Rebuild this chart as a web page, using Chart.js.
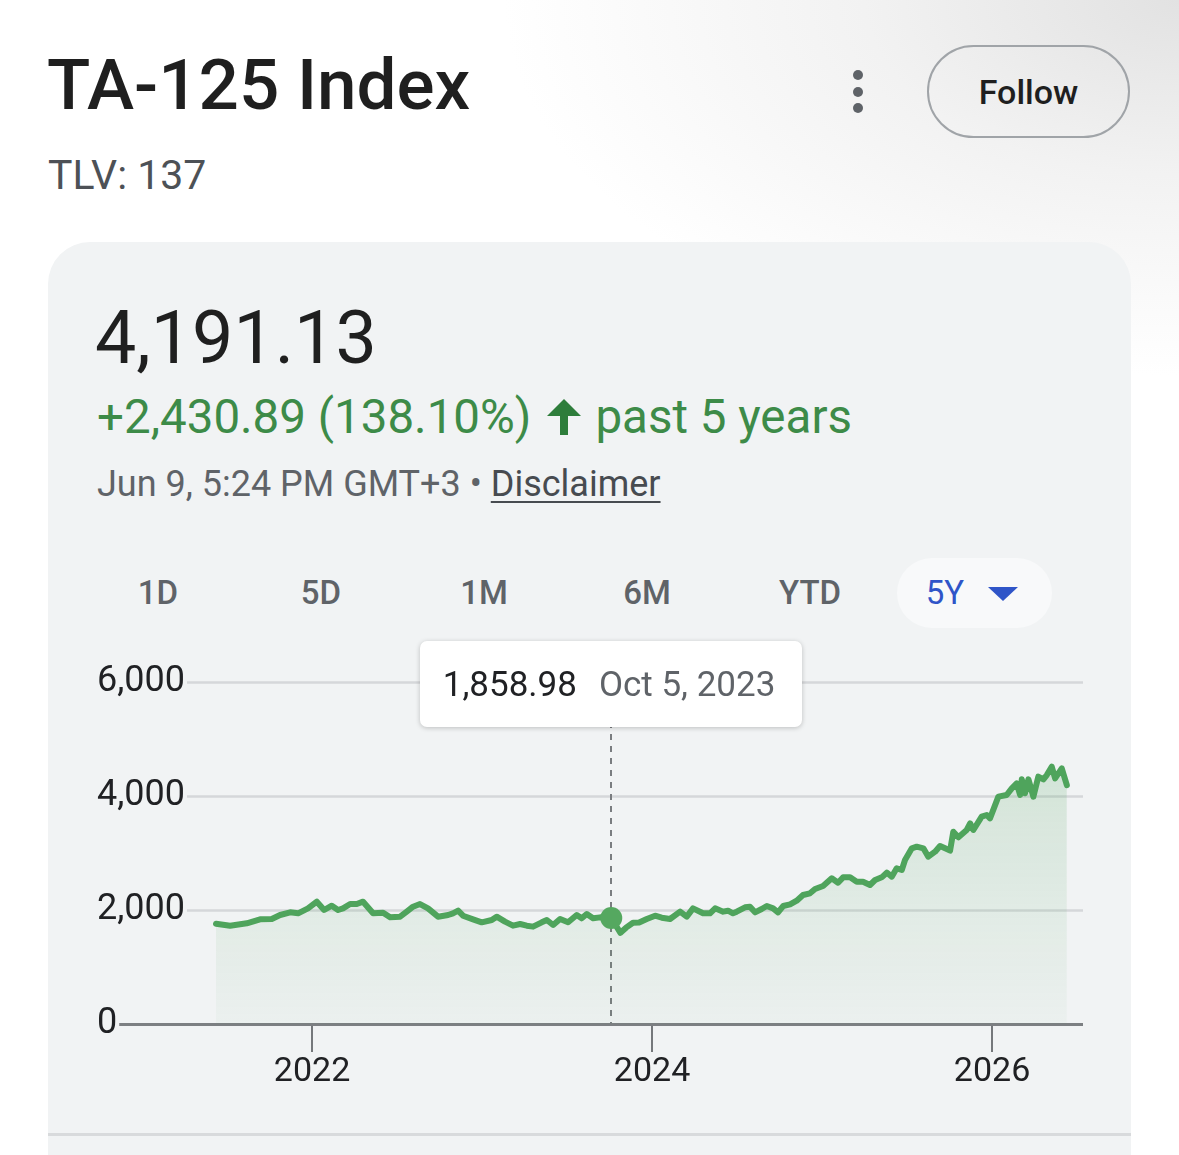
<!DOCTYPE html>
<html lang="en">
<head>
    <meta charset="UTF-8">
    <title>TA-125 Index</title>
    <script src="https://cdn.jsdelivr.net/npm/chart.js"></script>
    <style>
        html, body { margin: 0; padding: 0; }
        body {
            width: 1179px; height: 1155px; overflow: hidden; position: relative;
            font-family: Roboto, "Noto Sans", Arial, sans-serif;
            background: radial-gradient(ellipse 900px 500px at 100% 0%, #e2e2e2 0%, #f2f2f2 35%, #ffffff 75%);
        }
        .abs { position: absolute; white-space: nowrap; }
        #title { left: 47px; top: 49px; font-size: 71px; line-height: 71px; font-weight: 500; color: #1f1f1f; }
        #exchange { left: 48px; top: 155px; font-size: 41px; line-height: 41px; color: #4d5156; }
        .dot { position: absolute; left: 853px; width: 10px; height: 10px; border-radius: 50%; background: #5f6368; }
        #follow {
            left: 927px; top: 45px; width: 199px; height: 89px; border: 2.5px solid #a0a4a8; border-radius: 48px;
            font-size: 34px; font-weight: 500; color: #1f1f1f; display: flex; align-items: center; justify-content: center;
        }
        #card { left: 48px; top: 242px; width: 1083px; height: 960px; background: #f1f3f4; border-radius: 42px; }
        #divider { left: 48px; top: 1133px; width: 1083px; height: 3px; background: #d8dadc; }
        #price { left: 95px; top: 302px; font-size: 73.5px; line-height: 73.5px; color: #1f1f1f; }
        #change { left: 97px; top: 393px; font-size: 47.5px; line-height: 48px; color: #3d8b48; display: flex; align-items: center; }
        #change svg { margin: 0 14px 0 16px; }
        #stamp { left: 97px; top: 466px; font-size: 36px; line-height: 36px; color: #5f6368; }
        #stamp u { color: #474b50; text-underline-offset: 5px; text-decoration-thickness: 2px; }
        .tab { position: absolute; top: 575px; font-size: 33px; line-height: 36px; color: #5f6368; font-weight: 500; transform: translateX(-50%); }
        #pill { left: 897px; top: 558px; width: 155px; height: 70px; border-radius: 35px; background: #f8f9fa; }
        #tri { left: 988px; top: 587px; width: 0; height: 0; border-left: 15px solid transparent; border-right: 15px solid transparent; border-top: 14px solid #2f55c8; }
        #chartBox { left: 0; top: 630px; width: 1179px; height: 500px; }
        #tip {
            position: absolute; top: 641px; height: 86px; background: #fff; border-radius: 7px;
            box-shadow: 0 1px 5px rgba(0,0,0,0.22); display: none; align-items: center;
            padding: 0 27px 0 23px; font-size: 35px; color: #202124; box-sizing: border-box; white-space: nowrap;
        }
        #tip span.d { color: #5f6368; margin-left: 22px; }
    </style>
</head>
<body>
    <div class="abs" id="title">TA-125 Index</div>
    <div class="abs" id="exchange">TLV: 137</div>
    <div class="dot" style="top:70px"></div>
    <div class="dot" style="top:87px"></div>
    <div class="dot" style="top:103px"></div>
    <div class="abs" id="follow">Follow</div>

    <div class="abs" id="card"></div>
    <div class="abs" id="divider"></div>
    <div class="abs" id="price">4,191.13</div>
    <div class="abs" id="change">+2,430.89 (138.10%)<svg width="34" height="36" viewBox="0 0 34 36"><path d="M17 0 L34 17 L21 17 L21 36 L13 36 L13 17 L0 17 Z" fill="#2e7d3b"/></svg>past 5 years</div>
    <div class="abs" id="stamp">Jun 9, 5:24 PM GMT+3 • <u>Disclaimer</u></div>

    <div class="abs" id="pill"></div>
    <div class="tab" style="left:158px">1D</div>
    <div class="tab" style="left:321px">5D</div>
    <div class="tab" style="left:484px">1M</div>
    <div class="tab" style="left:647px">6M</div>
    <div class="tab" style="left:810px">YTD</div>
    <div class="tab" style="left:945px; color:#2f55c8; font-weight:400">5Y</div>
    <div class="abs" id="tri"></div>

    <div class="abs" id="chartBox"><canvas id="indexChart"></canvas></div>
    <div id="tip"></div>

    <script>
        // decimal years
        const years = [
            2021.435, 2021.518, 2021.616, 2021.694, 2021.763, 2021.812, 2021.871, 2021.918, 2021.976,
            2022.028, 2022.071, 2022.116, 2022.153, 2022.182, 2022.224, 2022.263, 2022.300, 2022.359,
            2022.418, 2022.459, 2022.518, 2022.557, 2022.594, 2022.635, 2022.682, 2022.741, 2022.800,
            2022.829, 2022.859, 2022.888, 2022.947, 2022.998, 2023.057, 2023.086, 2023.135, 2023.182,
            2023.224, 2023.263, 2023.300, 2023.351, 2023.381, 2023.418, 2023.459, 2023.506, 2023.557,
            2023.586, 2023.616, 2023.653, 2023.694, 2023.760, 2023.814, 2023.847, 2023.888, 2023.924,
            2023.969, 2024.018, 2024.057, 2024.106, 2024.165, 2024.204, 2024.241, 2024.300, 2024.341,
            2024.371, 2024.418, 2024.447, 2024.476, 2024.498, 2024.547, 2024.576, 2024.606, 2024.645,
            2024.675, 2024.712, 2024.741, 2024.771, 2024.812, 2024.851, 2024.888, 2024.929, 2024.959,
            2025.006, 2025.057, 2025.094, 2025.124, 2025.165, 2025.204, 2025.241, 2025.282, 2025.312,
            2025.351, 2025.381, 2025.410, 2025.439, 2025.469, 2025.488, 2025.528, 2025.557, 2025.596,
            2025.625, 2025.665, 2025.694, 2025.724, 2025.753, 2025.772, 2025.802, 2025.851, 2025.871,
            2025.890, 2025.939, 2025.969, 2025.988, 2026.037, 2026.086, 2026.116, 2026.145, 2026.165,
            2026.175, 2026.194, 2026.214, 2026.243, 2026.272, 2026.302, 2026.322, 2026.351, 2026.371,
            2026.410, 2026.440
        ];
        const values = [
            1760.24, 1725, 1766, 1836, 1842, 1912, 1959, 1942, 2029,
            2146, 2000, 2076, 2000, 2029, 2105, 2105, 2146, 1942,
            1953, 1871, 1883, 1971, 2058, 2105, 2029, 1883, 1912,
            1942, 1988, 1900, 1836, 1784, 1825, 1883, 1795, 1725,
            1754, 1725, 1708, 1784, 1825, 1737, 1842, 1784, 1912,
            1854, 1930, 1854, 1871, 1858.98, 1600, 1690, 1777, 1780,
            1842, 1900, 1865, 1842, 1971, 1883, 2029, 1942, 1942,
            2029, 1971, 1988, 1942, 1971, 2047, 2058, 1959, 2017,
            2070, 2029, 1959, 2070, 2099, 2164, 2263, 2293, 2368,
            2421, 2556, 2479, 2573, 2573, 2497, 2497, 2439, 2526,
            2573, 2655, 2585, 2731, 2702, 2877, 3082, 3111, 3082,
            2935, 3023, 3123, 3082, 3041, 3374, 3275, 3404, 3521,
            3404, 3637, 3667, 3608, 3988, 4018, 4135, 4222, 4018,
            4293, 4047, 4293, 3988, 4339, 4293, 4368, 4514, 4310,
            4485, 4191.13
        ];
        const xTicks = [2022, 2024, 2026];
        const yTicks = [0, 2000, 4000, 6000];
        const highlightIndex = 49; // Oct 5, 2023

        const green = '#4fa45c';
        const xFont = { family: 'Roboto', size: 34 };
        const yFont = { family: 'Roboto', size: 36 };

        function yearToDate(y) {
            const yr = Math.floor(y);
            const start = Date.UTC(yr, 0, 1);
            const len = Date.UTC(yr + 1, 0, 1) - start;
            return new Date(start + (y - yr) * len);
        }

        function formatDate(y) {
            return yearToDate(y).toLocaleDateString('en-US', { month: 'short', day: 'numeric', year: 'numeric', timeZone: 'UTC' });
        }

        // grid lines that start just after each y label; the zero one doubles as the x axis line
        const labelGrid = {
            id: 'labelGrid',
            beforeDatasetsDraw(chart) {
                const { ctx, chartArea, scales } = chart;
                const yScale = scales.y;
                ctx.save();
                ctx.font = yFont.size + 'px ' + yFont.family;
                yScale.ticks.forEach((t, i) => {
                    const y = Math.round(yScale.getPixelForTick(i)) + 0.5;
                    const w = ctx.measureText(t.label).width;
                    ctx.strokeStyle = t.value === 0 ? '#7c7f82' : '#d5d7da';
                    ctx.lineWidth = t.value === 0 ? 3 : 2.5;
                    ctx.beginPath();
                    ctx.moveTo(yScale.left + w + 2, y);
                    ctx.lineTo(chartArea.right, y);
                    ctx.stroke();
                });
                ctx.restore();
            }
        };

        // dashed hover line down to the axis
        const hoverLine = {
            id: 'hoverLine',
            beforeDatasetsDraw(chart) {
                const active = chart.getActiveElements();
                if (!active.length) return;
                const { ctx, chartArea } = chart;
                const x = Math.round(active[0].element.x);
                ctx.save();
                ctx.strokeStyle = '#7a7d80';
                ctx.lineWidth = 2;
                ctx.setLineDash([6, 6]);
                ctx.beginPath();
                ctx.moveTo(x, chartArea.top + 40);
                ctx.lineTo(x, chartArea.bottom);
                ctx.stroke();
                ctx.restore();
            }
        };

        function externalTooltip(context) {
            const tip = document.getElementById('tip');
            const tooltip = context.tooltip;
            if (tooltip.opacity === 0 || !tooltip.dataPoints || !tooltip.dataPoints.length) {
                tip.style.display = 'none';
                return;
            }
            const dp = tooltip.dataPoints[0];
            const v = dp.parsed.y.toLocaleString('en-US', { minimumFractionDigits: 2, maximumFractionDigits: 2 });
            tip.innerHTML = `<span>${v}</span><span class="d">${formatDate(dp.parsed.x)}</span>`;
            tip.style.display = 'flex';
            const canvas = context.chart.canvas;
            const box = canvas.getBoundingClientRect();
            tip.style.left = (box.left + tooltip.caretX - tip.offsetWidth / 2) + 'px';
        }

        const ctx = document.getElementById('indexChart').getContext('2d');
        const chart = new Chart(ctx, {
            type: 'line',
            data: {
                datasets: [{
                    data: years.map((y, i) => ({ x: y, y: values[i] })),
                    borderColor: green,
                    borderWidth: 6,
                    borderJoinStyle: 'round',
                    borderCapStyle: 'round',
                    tension: 0,
                    fill: 'origin',
                    backgroundColor: (c) => {
                        const area = c.chart.chartArea;
                        if (!area) return 'rgba(79,164,92,0.12)';
                        const g = c.chart.ctx.createLinearGradient(0, area.top, 0, area.bottom);
                        g.addColorStop(0, 'rgba(79,164,92,0.26)');
                        g.addColorStop(0.4, 'rgba(79,164,92,0.15)');
                        g.addColorStop(1, 'rgba(79,164,92,0.03)');
                        return g;
                    },
                    pointRadius: 0,
                    pointHoverRadius: 11,
                    pointHoverBorderWidth: 0,
                    pointBackgroundColor: '#55a860',
                    pointHoverBackgroundColor: '#55a860'
                }]
            },
            options: {
                responsive: true,
                maintainAspectRatio: false,
                animation: false,
                events: [],
                layout: { padding: { left: 97, right: 96, top: 52, bottom: 20 } },
                interaction: { mode: 'nearest', intersect: false, axis: 'x' },
                plugins: {
                    legend: { display: false },
                    tooltip: { enabled: false, external: externalTooltip }
                },
                scales: {
                    x: {
                        type: 'linear',
                        min: 2021.282,
                        max: 2026.535,
                        afterBuildTicks: (scale) => { scale.ticks = xTicks.map(v => ({ value: v })); },
                        afterFit: (scale) => { scale.height = 86; },
                        grid: { display: true, drawOnChartArea: false, drawTicks: true, tickLength: 28, color: '#75787b', lineWidth: 2 },
                        border: { display: false },
                        ticks: { font: xFont, color: '#202124', padding: 0, maxRotation: 0, callback: (v) => String(v) }
                    },
                    y: {
                        min: 0,
                        max: 6000,
                        afterBuildTicks: (scale) => { scale.ticks = yTicks.map(v => ({ value: v })); },
                        afterFit: (scale) => { scale.width = 93; },
                        grid: { display: false },
                        border: { display: false },
                        ticks: { font: yFont, color: '#202124', padding: 0, crossAlign: 'far', callback: (v) => v.toLocaleString('en-US') }
                    }
                }
            },
            plugins: [labelGrid, hoverLine]
        });

        const hp = chart.getDatasetMeta(0).data[highlightIndex];
        chart.setActiveElements([{ datasetIndex: 0, index: highlightIndex }]);
        chart.tooltip.setActiveElements([{ datasetIndex: 0, index: highlightIndex }], { x: hp.x, y: hp.y });
        chart.update();
    </script>
</body>
</html>
